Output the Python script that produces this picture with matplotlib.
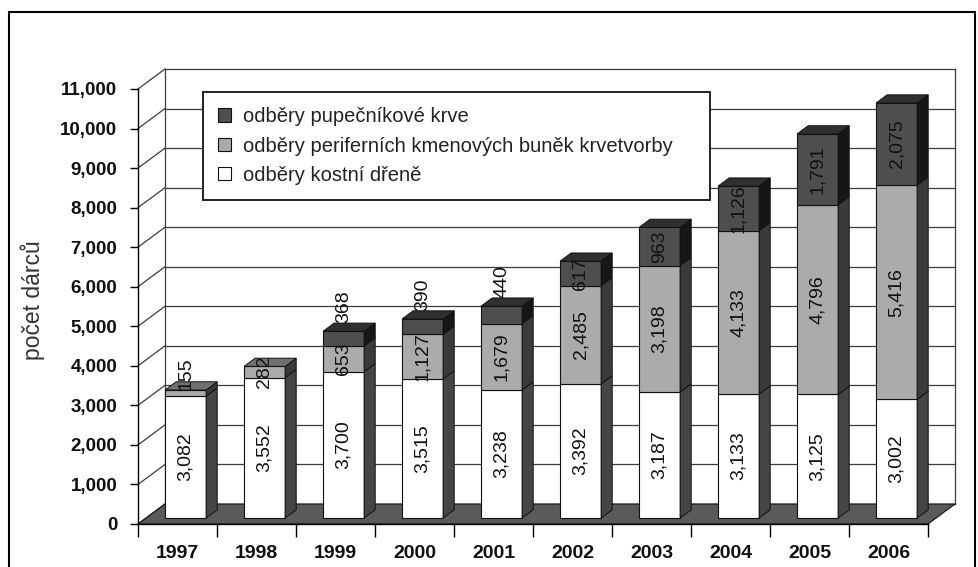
import matplotlib
matplotlib.use("Agg")
import matplotlib.pyplot as plt
from matplotlib.patches import Polygon, Patch, Rectangle
import numpy as np

plt.rcParams['font.family'] = ['Liberation Sans', 'DejaVu Sans']

# ---- data -------------------------------------------------------------
years = ["1997", "1998", "1999", "2000", "2001", "2002", "2003", "2004", "2005", "2006"]
kostni_dren = [3082, 3552, 3700, 3515, 3238, 3392, 3187, 3133, 3125, 3002]
periferni = [155, 282, 653, 1127, 1679, 2485, 3198, 4133, 4796, 5416]
pupecnikova = [0, 0, 368, 390, 440, 617, 963, 1126, 1791, 2075]
series_names = ["odběry kostní dřeně",
                "odběry periferních kmenových buněk krvetvorby",
                "odběry pupečníkové krve"]
y_ticks = list(range(0, 11001, 1000))
y_title = "počet dárců"

# ---- styling ----------------------------------------------------------
face_front = ["#ffffff", "#ababab", "#4e4e4e"]
face_side = ["#454545", "#3a3a3a", "#161616"]
face_top = ["#d0d0d0", "#707070", "#303030"]

W, H = 979, 567
fig = plt.figure(figsize=(W / 100, H / 100), dpi=100)
ax = fig.add_axes([138 / W, 43 / H, 790 / W, 435 / H])
ax.set_xlim(0, 10)
ax.set_ylim(0, 11000)

px_x = 790 / 10.0          # pixels per category
px_y = 435 / 11000.0       # pixels per donor
DX = 27 / px_x             # depth of the chart box in data units
DY = 20 / px_y
f0, f1 = 0.30, 0.71        # bar front / back depth fractions
bar_w = 0.52

n = len(years)
top_val = max(y_ticks)

# back wall with gridlines
for t in y_ticks:
    ax.plot([DX, n + DX], [t + DY, t + DY], color="#3c3c3c", lw=0.9,
            clip_on=False, zorder=1)
    ax.plot([0, DX], [t, t + DY], color="#3c3c3c", lw=0.9,
            clip_on=False, zorder=1)
ax.plot([DX, DX], [DY, top_val + DY], color="#3c3c3c", lw=0.9, clip_on=False, zorder=1)
ax.plot([n + DX, n + DX], [DY, top_val + DY], color="#3c3c3c", lw=0.9,
        clip_on=False, zorder=1)

# floor
ax.add_patch(Polygon([(0, 0), (n, 0), (n + DX, DY), (DX, DY)], closed=True,
                     facecolor="#5a5a5a", edgecolor="#111111", lw=0.8,
                     clip_on=False, zorder=1.5))

# stacked 3D-style columns
series = [kostni_dren, periferni, pupecnikova]
x_front = np.arange(n) + 0.5 + f0 * DX
ddx = (f1 - f0) * DX
ddy = (f1 - f0) * DY
bottoms = np.zeros(n)
for s, vals in enumerate(series):
    vals = np.asarray(vals, dtype=float)
    ax.bar(x_front, vals, width=bar_w, bottom=bottoms + f0 * DY,
           color=face_front[s], edgecolor="#111111", linewidth=0.8,
           clip_on=False, zorder=3)
    for i in range(n):
        if vals[i] <= 0:
            continue
        xr = x_front[i] + bar_w / 2
        b = bottoms[i] + f0 * DY
        t = b + vals[i]
        ax.add_patch(Polygon([(xr, b), (xr + ddx, b + ddy), (xr + ddx, t + ddy), (xr, t)],
                             closed=True, facecolor=face_side[s], edgecolor="#111111",
                             lw=0.7, clip_on=False, zorder=3))
    bottoms = bottoms + vals

# top faces of each column, coloured by its topmost non-empty segment
for i in range(n):
    top_s = max(s for s in range(3) if series[s][i] > 0)
    xl = x_front[i] - bar_w / 2
    xr = x_front[i] + bar_w / 2
    t = bottoms[i] + f0 * DY
    ax.add_patch(Polygon([(xl, t), (xr, t), (xr + ddx, t + ddy), (xl + ddx, t + ddy)],
                         closed=True, facecolor=face_top[top_s], edgecolor="#111111",
                         lw=0.7, clip_on=False, zorder=3))

# value labels
cum = np.zeros(n)
for s, vals in enumerate(series):
    for i in range(n):
        v = vals[i]
        if v <= 0:
            continue
        txt = f"{v:,}"
        if s == 2 and v < 500:
            # small cord-blood counts sit just above the column
            y = cum[i] + v + f1 * DY
            va = "bottom"
        elif v < 200:
            # very thin segment: label rests on its front top edge
            y = cum[i] + v + f0 * DY
            va = "bottom"
        else:
            y = cum[i] + v / 2 + f0 * DY
            va = "center"
        ax.text(x_front[i], y, txt, rotation=90, ha="center", va=va,
                fontsize=14, color="#111111", zorder=6, clip_on=False)
    cum = cum + np.asarray(vals)

# axes, ticks
for side in ("top", "right"):
    ax.spines[side].set_visible(False)
ax.spines["left"].set_linewidth(1.0)
ax.spines["bottom"].set_linewidth(1.0)
ax.spines["left"].set_zorder(4)
ax.spines["bottom"].set_zorder(4)

ax.set_yticks(y_ticks)
ax.set_yticklabels([f"{t:,}" for t in y_ticks], fontsize=13.5, fontweight="bold",
                   color="#111111")
ax.tick_params(axis="y", direction="out", length=6, width=1, pad=9)

ax.set_xticks(np.arange(n + 1))
ax.set_xticklabels([])
ax.tick_params(axis="x", which="major", direction="out", length=9, width=1)
ax.set_xticks(np.arange(n) + 0.5, minor=True)
ax.set_xticklabels(years, minor=True, fontsize=14, fontweight="bold", color="#111111")
ax.tick_params(axis="x", which="minor", length=0, pad=15)
ax.patch.set_visible(False)

# legend
handles = [Patch(facecolor=face_front[2], edgecolor="#111111", lw=0.8),
           Patch(facecolor=face_front[1], edgecolor="#111111", lw=0.8),
           Patch(facecolor=face_front[0], edgecolor="#111111", lw=0.8)]
labels = [series_names[2], series_names[1], series_names[0]]
x0 = (203 - 138) / 790
y0 = (524 - 193) / 435
leg = ax.legend(handles, labels, loc="upper left", mode="expand",
                bbox_to_anchor=(x0, y0, (710 - 203) / 790, (193 - 92) / 435),
                borderaxespad=0, fontsize=14.5, frameon=True, fancybox=False,
                edgecolor="#222222", framealpha=1, handlelength=0.62,
                handleheight=0.62, handletextpad=0.6, labelspacing=0.52,
                borderpad=0.75, labelcolor="#222222")
leg.get_frame().set_linewidth(1.4)
leg.set_zorder(5)

# y-axis title and outer frame
fig.text(33 / W, 1 - 300 / H, y_title, rotation=90, fontsize=16.5, color="#333333",
         ha="center", va="center")
fig.patches.append(Rectangle((9 / W, -0.05), (975 - 9) / W, (H - 12) / H + 0.05,
                             transform=fig.transFigure, fill=False, lw=1.5,
                             edgecolor="black"))

fig.savefig("out.png", dpi=100)
